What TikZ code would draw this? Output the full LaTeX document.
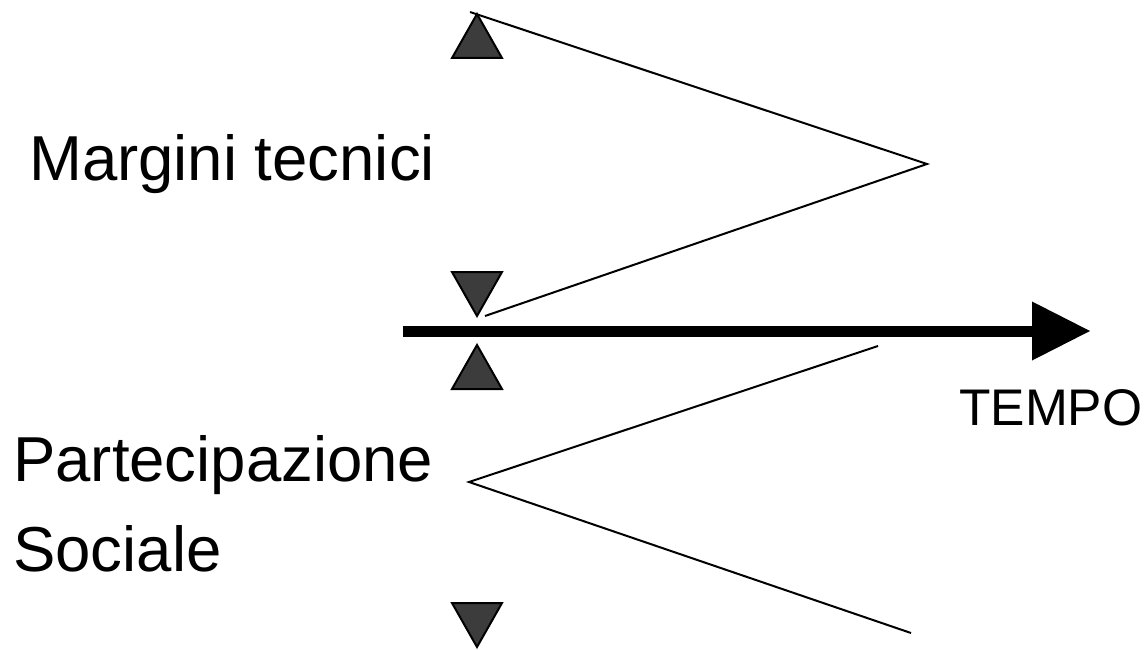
\documentclass[tikz,border=0pt]{standalone}
\usepackage{fontspec}
\setmainfont{Liberation Sans}
\definecolor{tri}{RGB}{60,60,60}
\begin{document}
\begin{tikzpicture}[x=1pt,y=-1pt,
  lbl/.style={anchor=base west,inner sep=0pt,font=\fontsize{63.5}{70}\selectfont},
  small/.style={anchor=base west,inner sep=0pt,font=\fontsize{51.5}{56}\selectfont},
  tri/.style={fill=tri,draw=black,line width=2pt,line join=miter},
  thin/.style={line width=2pt,line join=miter}]
\useasboundingbox (0,0) rectangle (1148,650);
% texts
\node[lbl] (mt) at (29,180) {Margini tecnici};
\node[lbl] (ps) at (13,481) {Partecipazione};
\node[lbl] (so) at (13,571) {Sociale};
\node[small] (tp) at (959,425) {TEMPO};
% triangles
\draw[tri] (477,14) -- (502,58) -- (452,58) -- cycle;
\draw[tri] (452,272) -- (502,272) -- (477,316) -- cycle;
\draw[tri] (477,345) -- (502,389) -- (452,389) -- cycle;
\draw[tri] (452,603) -- (502,603) -- (477,647) -- cycle;
% time axis
\coordinate (a0) at (403,331);
\coordinate (a1) at (1033,331);
\coordinate (a2) at (1090,331);
\draw[line width=11pt] (a0) -- (a1);
\fill (1032,301.5) -- (a2) -- (1032,360.5) -- cycle;
% angle lines
\coordinate (p1) at (470,12);
\coordinate (v1) at (927,164);
\coordinate (p2) at (485,316);
\draw[thin] (p1) -- (v1) -- (p2);
\coordinate (q1) at (878,346);
\coordinate (v2) at (469,482);
\coordinate (q2) at (911,633);
\draw[thin] (q1) -- (v2) -- (q2);
\end{tikzpicture}
\end{document}
